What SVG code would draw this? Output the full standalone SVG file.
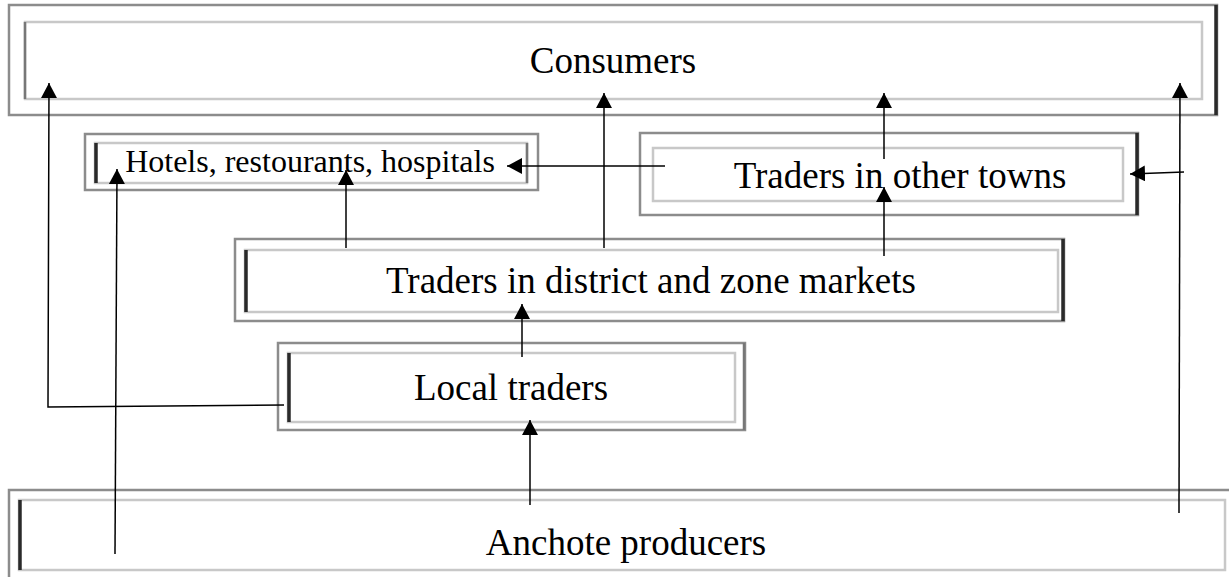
<svg xmlns="http://www.w3.org/2000/svg" width="1229" height="577" viewBox="0 0 1229 577">
<defs>
<marker id="ah" markerUnits="userSpaceOnUse" markerWidth="16" markerHeight="16" viewBox="0 0 16 16" refX="15" refY="8" orient="auto">
<path d="M0,0 L15,8 L0,16 Z" fill="#000"/>
</marker>
</defs>
<style>
.outer{fill:#fff;stroke:#8c8c8c;stroke-width:2.5}
.inner{fill:#fff;stroke:#c8c8c8;stroke-width:2.5}
.dark{stroke:#2a2a2a;stroke-width:3.5;fill:none}
.mid{stroke:#777;stroke-width:2.5;fill:none}
.lbl{font-family:"Liberation Serif","Times New Roman",serif;font-size:37px;fill:#000;text-anchor:middle}
.conn{stroke:#000;stroke-width:1.5;fill:none}
.arr{marker-end:url(#ah)}
</style>
<rect width="1229" height="577" fill="#fff"/>
<g id="consumers">
<rect class="outer" x="9" y="5" width="1208" height="110"/>
<line class="dark" x1="1216" y1="5" x2="1216" y2="115"/>
<rect class="inner" x="25" y="22" width="1177" height="77"/>
<line class="mid" x1="25" y1="22" x2="25" y2="99"/>
<text class="lbl" x="613" y="73">Consumers</text>
</g>
<g id="hotels">
<rect class="outer" x="85" y="134" width="453" height="56"/>
<rect class="inner" x="95" y="143" width="432" height="40"/>
<line class="dark" x1="96" y1="143" x2="96" y2="183"/>
<line class="mid" x1="527" y1="143" x2="527" y2="183"/>
<text class="lbl" x="310" y="172" style="font-size:32px">Hotels, restourants, hospitals</text>
</g>
<g id="towns">
<rect class="outer" x="640" y="133" width="498" height="82"/>
<line class="dark" x1="1137" y1="133" x2="1137" y2="215"/>
<rect class="inner" x="653" y="148" width="470" height="53"/>
<text class="lbl" x="900" y="188">Traders in other towns</text>
</g>
<g id="district">
<rect class="outer" x="235" y="239" width="829" height="82"/>
<line class="dark" x1="1063" y1="239" x2="1063" y2="321"/>
<rect class="inner" x="245" y="250" width="813" height="62"/>
<line class="dark" x1="246" y1="250" x2="246" y2="312"/>
<text class="lbl" x="651" y="293">Traders in district and zone markets</text>
</g>
<g id="local">
<rect class="outer" x="278" y="343" width="467" height="87"/>
<line class="mid" x1="744" y1="343" x2="744" y2="430"/>
<rect class="inner" x="288" y="353" width="447" height="69"/>
<line class="dark" x1="289" y1="353" x2="289" y2="422"/>
<text class="lbl" x="511" y="400">Local traders</text>
</g>
<g id="producers">
<rect class="outer" x="9" y="490" width="1222" height="92"/>
<rect class="inner" x="19" y="500" width="1206" height="70"/>
<line class="dark" x1="20" y1="500" x2="20" y2="570"/>
<text class="lbl" x="626" y="555">Anchote producers</text>
</g>
<g id="connectors">
<polyline class="conn arr" points="284,405 48,407 49,83"/>
<line class="conn arr" x1="115" y1="554" x2="117" y2="169"/>
<line class="conn arr" x1="530" y1="505" x2="530" y2="420"/>
<line class="conn arr" x1="522" y1="357" x2="522" y2="304"/>
<line class="conn arr" x1="346" y1="248" x2="346" y2="170"/>
<line class="conn arr" x1="604" y1="248" x2="604" y2="93"/>
<line class="conn arr" x1="884" y1="256" x2="884" y2="187"/>
<line class="conn arr" x1="884" y1="159" x2="884" y2="93"/>
<line class="conn arr" x1="665" y1="166" x2="507" y2="166"/>
<line class="conn arr" x1="1179" y1="513" x2="1180" y2="83"/>
<line class="conn arr" x1="1184" y1="172" x2="1130" y2="174"/>
</g>
</svg>
